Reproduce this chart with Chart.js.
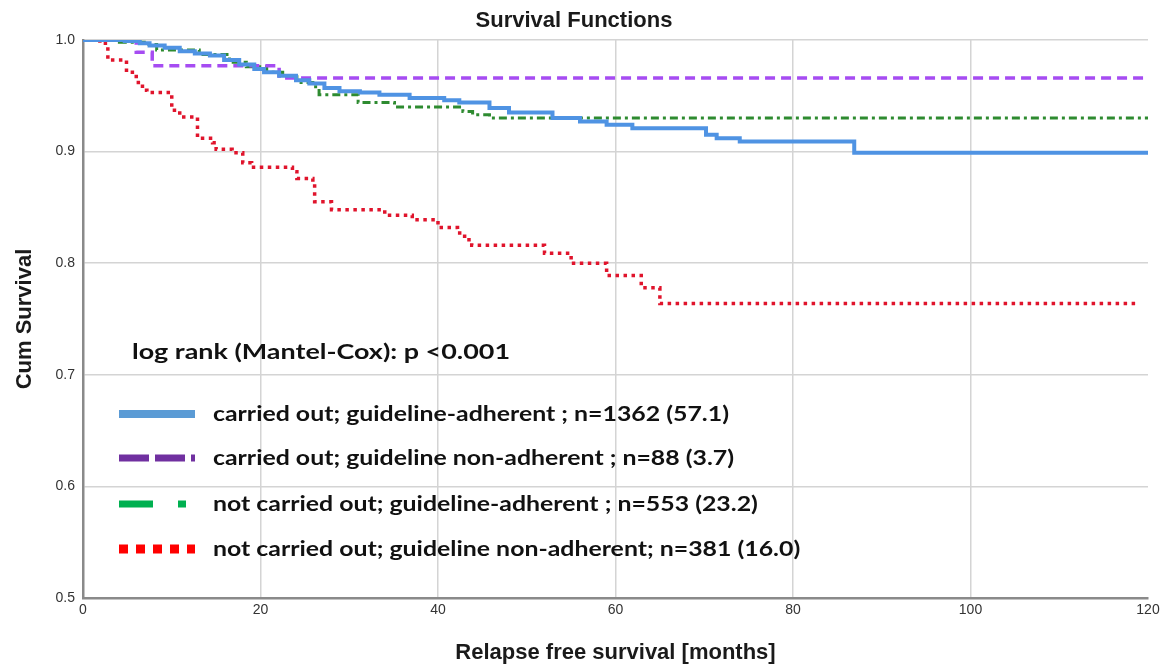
<!DOCTYPE html>
<html>
<head>
<meta charset="utf-8">
<title>Survival Functions</title>
<script src="https://cdn.jsdelivr.net/npm/chart.js@4.4.1/dist/chart.umd.min.js"></script>
<style>
  html, body { margin: 0; padding: 0; background: #fff; }
</style>
</head>
<body>
<canvas id="graficoSobrevida" width="1175" height="664"></canvas>
<script>
// Kaplan-Meier steps: month of each drop, cum survival after it
const adherentTimes = [0, 4.7, 6.4, 7.5, 9.2, 10.9, 12.6, 14.3, 15.9, 17.6, 19.3, 20.4, 22.1, 24.0, 25.5, 27.2, 28.9, 31.2, 33.4, 36.8, 40.7, 42.4, 45.8, 48.0, 52.9, 56.0, 59.0, 61.9, 70.2, 71.4, 74.0, 86.9, 120];
const adherentSurv  = [1.0, .999, .997, .995, .993, .990, .988, .986, .982, .978, .974, .971, .968, .964, .961, .957, .954, .953, .951, .948, .946, .944, .939, .935, .930, .927, .924, .921, .915, .912, .909, .899, .899];

const nonAdherentTimes = [0, 6.0, 7.8, 22.1, 120];
const nonAdherentSurv  = [1.0, .989, .977, .966, .966];

const notDoneAdherentTimes = [0, 4.1, 7.2, 8.3, 13.1, 16.5, 18.4, 20.7, 22.5, 24.1, 25.9, 26.6, 31.0, 35.1, 42.8, 43.9, 45.8, 120];
const notDoneAdherentSurv  = [1.0, .998, .996, .991, .987, .980, .976, .971, .967, .962, .958, .951, .944, .940, .936, .933, .930, .930];

const notDoneNonAdherentTimes = [0, 1.9, 2.8, 4.9, 6.0, 6.7, 7.2, 10.0, 10.9, 12.9, 14.6, 15.0, 16.8, 18.0, 19.0, 23.6, 24.1, 25.9, 26.1, 28.0, 34.0, 37.1, 40.0, 42.2, 43.0, 43.8, 52.0, 55.0, 59.0, 62.9, 65.0, 119];
const notDoneNonAdherentSurv  = [1.0, .997, .982, .971, .962, .955, .953, .937, .931, .912, .908, .902, .899, .890, .886, .882, .876, .873, .855, .848, .843, .839, .832, .827, .821, .816, .809, .800, .789, .778, .764, .764];

const seriesLabels = [
  'carried out; guideline-adherent ; n=1362 (57.1)',
  'carried out; guideline non-adherent ; n=88 (3.7)',
  'not carried out; guideline-adherent ; n=553 (23.2)',
  'not carried out; guideline non-adherent; n=381 (16.0)'
];
const pValueText = 'log rank (Mantel-Cox): p <0.001';

const xTicks = [0, 20, 40, 60, 80, 100, 120];
const yTicks = [0.5, 0.6, 0.7, 0.8, 0.9, 1.0];

function toPoints(times, surv) {
  return times.map((t, i) => ({ x: t, y: surv[i] }));
}

// legend samples are drawn by hand, they look different from the plotted lines
const legendSamples = [
  { color: '#5b9bd5', width: 8, dash: [] },
  { color: '#7030a0', width: 7, dash: [30, 6] },
  { color: '#00b050', width: 7, dash: [34, 25, 8, 100] },
  { color: '#ff0000', width: 9, dash: [9, 8] }
];

const legendaInterna = {
  id: 'legendaInterna',
  afterDatasetsDraw(chart) {
    const ctx = chart.ctx;
    const left = chart.chartArea.left;
    ctx.save();
    ctx.fillStyle = '#111';
    ctx.textBaseline = 'middle';
    ctx.font = 'bold 21px Lato';

    // p-value line
    let sx = 378 / ctx.measureText(pValueText).width;
    ctx.save();
    ctx.translate(left + 49, 352);
    ctx.scale(sx, 1);
    ctx.fillText(pValueText, 0, 0);
    ctx.restore();

    const rows = [414, 458, 504, 549];
    sx = 516 / ctx.measureText(seriesLabels[0]).width;
    seriesLabels.forEach((label, i) => {
      const s = legendSamples[i];
      ctx.beginPath();
      ctx.strokeStyle = s.color;
      ctx.lineWidth = s.width;
      ctx.setLineDash(s.dash);
      ctx.moveTo(left + 36, rows[i]);
      ctx.lineTo(left + 112, rows[i]);
      ctx.stroke();

      ctx.save();
      ctx.translate(left + 130, rows[i]);
      ctx.scale(sx, 1);
      ctx.fillText(label, 0, 0);
      ctx.restore();
    });
    ctx.restore();
  }
};

document.addEventListener("DOMContentLoaded", () => {
  DrawSurvivalChart();
});

function DrawSurvivalChart() {
  const fonteEixo = { family: 'Liberation Sans, Arial, sans-serif', size: 22, weight: 'bold' };

  new Chart(document.getElementById('graficoSobrevida'), {
    type: 'line',
    data: {
      datasets: [
        {
          label: seriesLabels[0],
          data: toPoints(adherentTimes, adherentSurv),
          borderColor: '#4f93e3',
          borderWidth: 4,
          stepped: true,
          pointRadius: 0
        },
        {
          label: seriesLabels[1],
          data: toPoints(nonAdherentTimes, nonAdherentSurv),
          borderColor: '#a64cf2',
          borderWidth: 3.5,
          borderDash: [10, 6],
          stepped: true,
          pointRadius: 0
        },
        {
          label: seriesLabels[2],
          data: toPoints(notDoneAdherentTimes, notDoneAdherentSurv),
          borderColor: '#2e8b30',
          borderWidth: 3,
          borderDash: [8, 4, 3, 4],
          stepped: true,
          pointRadius: 0
        },
        {
          label: seriesLabels[3],
          data: toPoints(notDoneNonAdherentTimes, notDoneNonAdherentSurv),
          borderColor: '#e0142c',
          borderWidth: 3.5,
          borderDash: [3.5, 4.5],
          stepped: true,
          pointRadius: 0
        }
      ]
    },
    options: {
      responsive: false,
      animation: false,
      layout: { padding: { left: 0, right: 27, top: 0, bottom: 0 } },
      plugins: {
        legend: { display: false },
        tooltip: { enabled: false },
        title: {
          display: true,
          text: 'Survival Functions',
          color: '#1a1a1a',
          font: fonteEixo,
          padding: { top: 8, bottom: 5.6 }
        }
      },
      scales: {
        x: {
          type: 'linear',
          min: xTicks[0],
          max: xTicks[xTicks.length - 1],
          afterBuildTicks: (axis) => { axis.ticks = xTicks.map(v => ({ value: v })); },
          afterFit: (axis) => { axis.height = 66; },
          ticks: {
            color: '#333',
            font: { family: 'Liberation Sans, Arial, sans-serif', size: 14 },
            padding: 4,
            maxRotation: 0
          },
          grid: {
            color: (c) => (c.tick && c.tick.value === 120) ? 'rgba(0,0,0,0)' : '#d4d4d4',
            lineWidth: 1.5,
            drawTicks: false
          },
          border: { color: '#8a8a8a', width: 2.5 },
          title: {
            display: true,
            text: 'Relapse free survival [months]',
            color: '#1a1a1a',
            font: { ...fonteEixo, lineHeight: 1 },
            padding: { top: 0, bottom: 0 }
          }
        },
        y: {
          min: yTicks[0],
          max: yTicks[yTicks.length - 1],
          afterBuildTicks: (axis) => { axis.ticks = yTicks.map(v => ({ value: v })); },
          afterFit: (axis) => { axis.width = 83; },
          ticks: {
            color: '#333',
            font: { family: 'Liberation Sans, Arial, sans-serif', size: 14 },
            padding: 8,
            callback: (v) => Number(v).toFixed(1)
          },
          grid: {
            color: '#d4d4d4',
            lineWidth: 1.5,
            drawTicks: false
          },
          border: { color: '#8a8a8a', width: 2.5 },
          title: {
            display: true,
            text: 'Cum Survival',
            color: '#1a1a1a',
            font: fonteEixo,
            padding: { top: 12, bottom: 0 }
          }
        }
      }
    },
    plugins: [legendaInterna]
  });
}
</script>
</body>
</html>
